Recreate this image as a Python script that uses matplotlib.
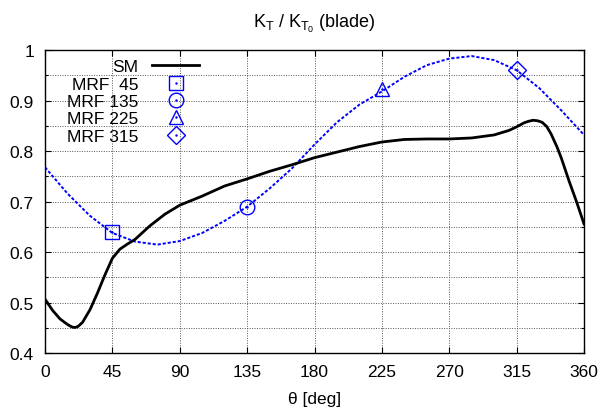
import matplotlib
matplotlib.use('Agg')
import matplotlib.pyplot as plt
from matplotlib.ticker import MultipleLocator

plt.rcParams['font.family'] = ['Liberation Sans', 'DejaVu Sans']
plt.rcParams['mathtext.fontset'] = 'custom'
plt.rcParams['mathtext.rm'] = 'Liberation Sans'
plt.rcParams['mathtext.it'] = 'Liberation Sans'

# SM curve
sm_theta = [0, 5, 10, 15, 18, 20, 22, 25, 30, 35, 40, 45, 50, 55, 60, 70, 80, 90, 105,
            120, 135, 150, 165, 180, 195, 210, 225, 240, 255, 270, 285, 300, 310, 315,
            320, 323, 326, 329, 332, 335, 338, 342, 345, 350, 355, 360]
sm_kt = [0.507, 0.485, 0.468, 0.457, 0.452, 0.451, 0.453, 0.461, 0.486, 0.519, 0.555,
         0.588, 0.606, 0.616, 0.625, 0.652, 0.675, 0.693, 0.711, 0.731, 0.745, 0.760,
         0.773, 0.787, 0.798, 0.809, 0.818, 0.823, 0.824, 0.824, 0.826, 0.832, 0.841,
         0.848, 0.856, 0.859, 0.861, 0.860, 0.857, 0.849, 0.834, 0.808, 0.785, 0.741,
         0.700, 0.656]

# fitted MRF curve (dashed blue)
fit_theta = [0, 15, 30, 45, 60, 75, 90, 105, 120, 135, 150, 165, 180, 195, 210, 225,
             240, 255, 270, 285, 300, 315, 330, 345, 360]
fit_kt = [0.768, 0.716, 0.672, 0.638, 0.621, 0.615, 0.622, 0.638, 0.662, 0.690, 0.726,
          0.766, 0.813, 0.857, 0.892, 0.918, 0.947, 0.970, 0.983, 0.988, 0.980, 0.960,
          0.925, 0.880, 0.832]

# MRF points
mrf_theta = [45, 135, 225, 315]
mrf_kt = [0.640, 0.690, 0.922, 0.961]
mrf_labels = ['MRF  45', 'MRF 135', 'MRF 225', 'MRF 315']
mrf_markers = ['s', 'o', '^', 'D']
mrf_sizes = [10.5, 10.5, 10, 9]

fs = 12.5

fig = plt.figure(figsize=(6.02, 4.10), dpi=100)
ax = fig.add_axes([0.0748, 0.1359, 0.8953, 0.7397])

ax.plot(fit_theta, fit_kt, color='blue', lw=1.4, ls=(0, (1.6, 1.0)))
sm_line, = ax.plot(sm_theta, sm_kt, color='black', lw=2.0)

handles = [sm_line]
for th, kt, mk, ms in zip(mrf_theta, mrf_kt, mrf_markers, mrf_sizes):
    h, = ax.plot([th], [kt], ls='none', marker=mk, ms=ms, mfc='none',
                 mec='blue', mew=1.0)
    d, = ax.plot([th], [kt], ls='none', marker='.', ms=1.5, color='blue')
    handles.append((h, d))

ax.set_xlim(0, 360)
ax.set_ylim(0.4, 1.0)
ax.xaxis.set_major_locator(MultipleLocator(45))
ax.yaxis.set_minor_locator(MultipleLocator(0.05))
ax.set_yticks([0.4, 0.5, 0.6, 0.7, 0.8, 0.9, 1.0])
ax.set_yticklabels(['0.4', '0.5', '0.6', '0.7', '0.8', '0.9', '1'])

ax.tick_params(which='both', direction='in', top=True, right=True, labelsize=fs,
               pad=8, width=0.8)
ax.tick_params(which='major', length=4.5)
ax.tick_params(which='minor', length=2.5)
ax.grid(True, which='both', axis='y', ls=(0, (1, 1.5)), color='#555555', lw=0.7)
ax.grid(True, which='major', axis='x', ls=(0, (1, 1.5)), color='#555555', lw=0.7)
for s in ax.spines.values():
    s.set_linewidth(1.0)

ax.set_title(r'$K_T$ / $K_{T_0}$ (blade)', fontsize=13, pad=16.5)
ax.set_xlabel(u'\u03b8 [deg]', fontsize=fs, labelpad=8)

ax.legend(handles, ['SM'] + mrf_labels, loc='upper right',
          bbox_to_anchor=(0.2857, 0.97), frameon=False, markerfirst=False,
          fontsize=fs, handlelength=2.7, handletextpad=0.8, labelspacing=0.13,
          borderpad=0, borderaxespad=0)

fig.savefig('out.png', dpi=100)
